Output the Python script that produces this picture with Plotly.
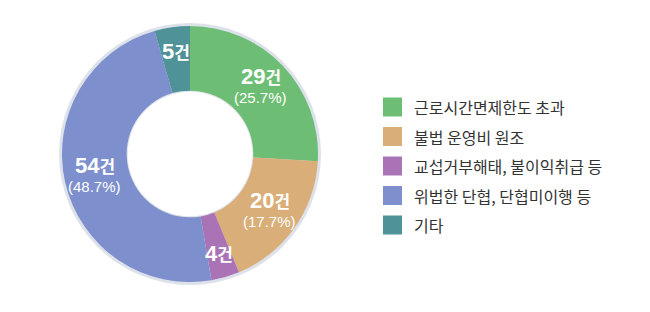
import math
import plotly.graph_objects as go

categories = ["근로시간면제한도 초과", "불법 운영비 원조", "교섭거부해태, 불이익취급 등",
              "위법한 단협, 단협미이행 등", "기타"]
counts = [29, 20, 4, 54, 5]
pct_labels = ["(25.7%)", "(17.7%)", "", "(48.7%)", ""]
colors = ["#6dbe74", "#d9ae78", "#a973b6", "#7d8fcd", "#4f9399"]

W, H = 650, 312
cx, cy, R = 190, 154, 128
hole = 0.495

FONT = "Noto Sans CJK KR, Noto Sans, sans-serif"
NUMFONT = "Liberation Sans, Arial, sans-serif"

fig = go.Figure()
# faint outer rim
fig.add_trace(go.Pie(
    values=[1], marker=dict(colors=["#dde1ea"]), hole=(R * hole - 1) / (R + 3),
    domain=dict(x=[(cx - R - 3) / W, (cx + R + 3) / W], y=[(H - cy - R - 3) / H, (H - cy + R + 3) / H]),
    textinfo="none", hoverinfo="skip", showlegend=False, sort=False))
fig.add_trace(go.Pie(
    labels=categories, values=counts, hole=hole, sort=False, direction="clockwise",
    rotation=0, marker=dict(colors=colors, line=dict(width=0)),
    domain=dict(x=[(cx - R) / W, (cx + R) / W], y=[(H - cy - R) / H, (H - cy + R) / H]),
    textinfo="none", showlegend=False))

total = sum(counts)
cum = 0
rmid = R * (1 + hole) / 2
for c, p in zip(counts, pct_labels):
    ang = (cum + c / 2) / total * 2 * math.pi
    cum += c
    r = rmid + (8 if not p and c < 10 and ang > math.pi / 2 else 2)
    x = cx + r * math.sin(ang)
    y = cy - r * math.cos(ang)
    txt = (f"<b>{c}</b><span style='font-size:17px;font-family:Noto Sans CJK KR'><b>건</b></span>")
    yc = y - 10 if p else y
    fig.add_annotation(x=x / W, y=1 - yc / H, xref="paper", yref="paper", text=txt,
                       showarrow=False, font=dict(family=NUMFONT, color="white", size=22),
                       xanchor="center", yanchor="middle")
    if p:
        fig.add_annotation(x=x / W, y=1 - (y + 11) / H, xref="paper", yref="paper", text=p,
                           showarrow=False, font=dict(family=NUMFONT, color="white", size=15),
                           xanchor="center", yanchor="middle")

# custom legend
lx, ly0, dy, sq = 383, 107, 29.5, 19
for i, (lab, col) in enumerate(zip(categories, colors)):
    yc = ly0 + i * dy
    fig.add_shape(type="rect", xref="paper", yref="paper",
                  x0=lx / W, x1=(lx + sq) / W, y0=1 - (yc + sq / 2) / H, y1=1 - (yc - sq / 2) / H,
                  fillcolor=col, line=dict(width=0))
    fig.add_annotation(x=(lx + sq + 10) / W, y=1 - yc / H, xref="paper", yref="paper",
                       text=lab, showarrow=False, xanchor="left", yanchor="middle",
                       font=dict(family=FONT, size=16, color="#333333"))

fig.update_layout(width=W, height=H, margin=dict(l=0, r=0, t=0, b=0),
                  paper_bgcolor="white", plot_bgcolor="white", showlegend=False)
fig.write_html("out.html")
